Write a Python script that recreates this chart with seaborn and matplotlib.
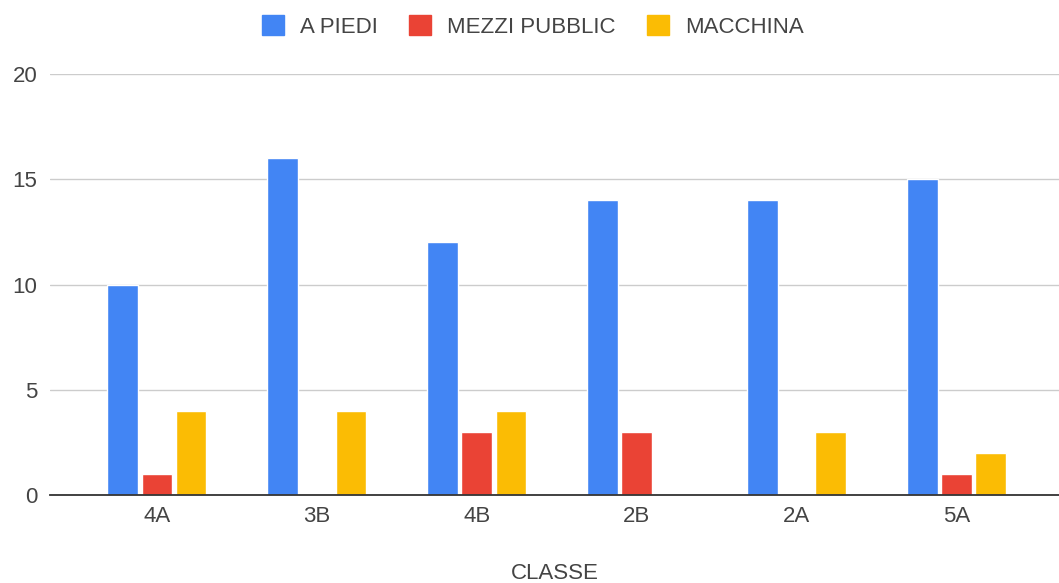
import pandas as pd
import matplotlib.pyplot as plt
import seaborn as sns

# Data
classi = ['4A', '3B', '4B', '2B', '2A', '5A']
a_piedi = [10, 16, 12, 14, 14, 15]
mezzi_pubblici = [1, 0, 3, 3, 0, 1]
macchina = [4, 4, 4, 0, 3, 2]
serie = ['A PIEDI', 'MEZZI PUBBLIC', 'MACCHINA']
colori = ['#4285F4', '#EA4335', '#FBBC04']

df = pd.DataFrame({'CLASSE': classi, serie[0]: a_piedi,
                   serie[1]: mezzi_pubblici, serie[2]: macchina})
long = df.melt(id_vars='CLASSE', var_name='Mezzo', value_name='Studenti')

sns.set_theme(style="white")
plt.rcParams['font.family'] = ['Liberation Sans', 'DejaVu Sans']
testo = '#444444'
fs = 16

fig = plt.figure(figsize=(10.59, 5.83), dpi=100)
ax = fig.add_axes([0.047, 0.151, 0.953, 0.722])

sns.barplot(data=long, x='CLASSE', y='Studenti', hue='Mezzo', hue_order=serie,
            palette=colori, width=0.64, gap=0.1, saturation=1, ax=ax,
            order=classi, legend=True)

ax.set_ylim(0, 20)
ax.set_xlim(-0.67, 5.64)
ax.set_yticks([0, 5, 10, 15, 20])
ax.grid(axis='y', color='#cccccc', linewidth=1)
ax.set_axisbelow(True)
for s in ['top', 'right', 'left']:
    ax.spines[s].set_visible(False)
ax.spines['bottom'].set_color('#333333')
ax.spines['bottom'].set_linewidth(1.3)
ax.tick_params(axis='both', length=0, labelsize=fs, colors=testo)
ax.tick_params(axis='y', pad=9)
ax.tick_params(axis='x', pad=8)
ax.set_ylabel('')
ax.set_xlabel('CLASSE', fontsize=fs, color=testo, labelpad=26)

ax.legend_.remove()
handles = [plt.Rectangle((0, 0), 1, 1, color=c) for c in colori]
fig.legend(handles, serie, loc='upper center', bbox_to_anchor=(0.503, 1.008),
           ncol=3, frameon=False, fontsize=fs, labelcolor=testo,
           handlelength=1.0, handleheight=1.0, handletextpad=0.72,
           columnspacing=1.4)

fig.savefig('out.png', dpi=100)
